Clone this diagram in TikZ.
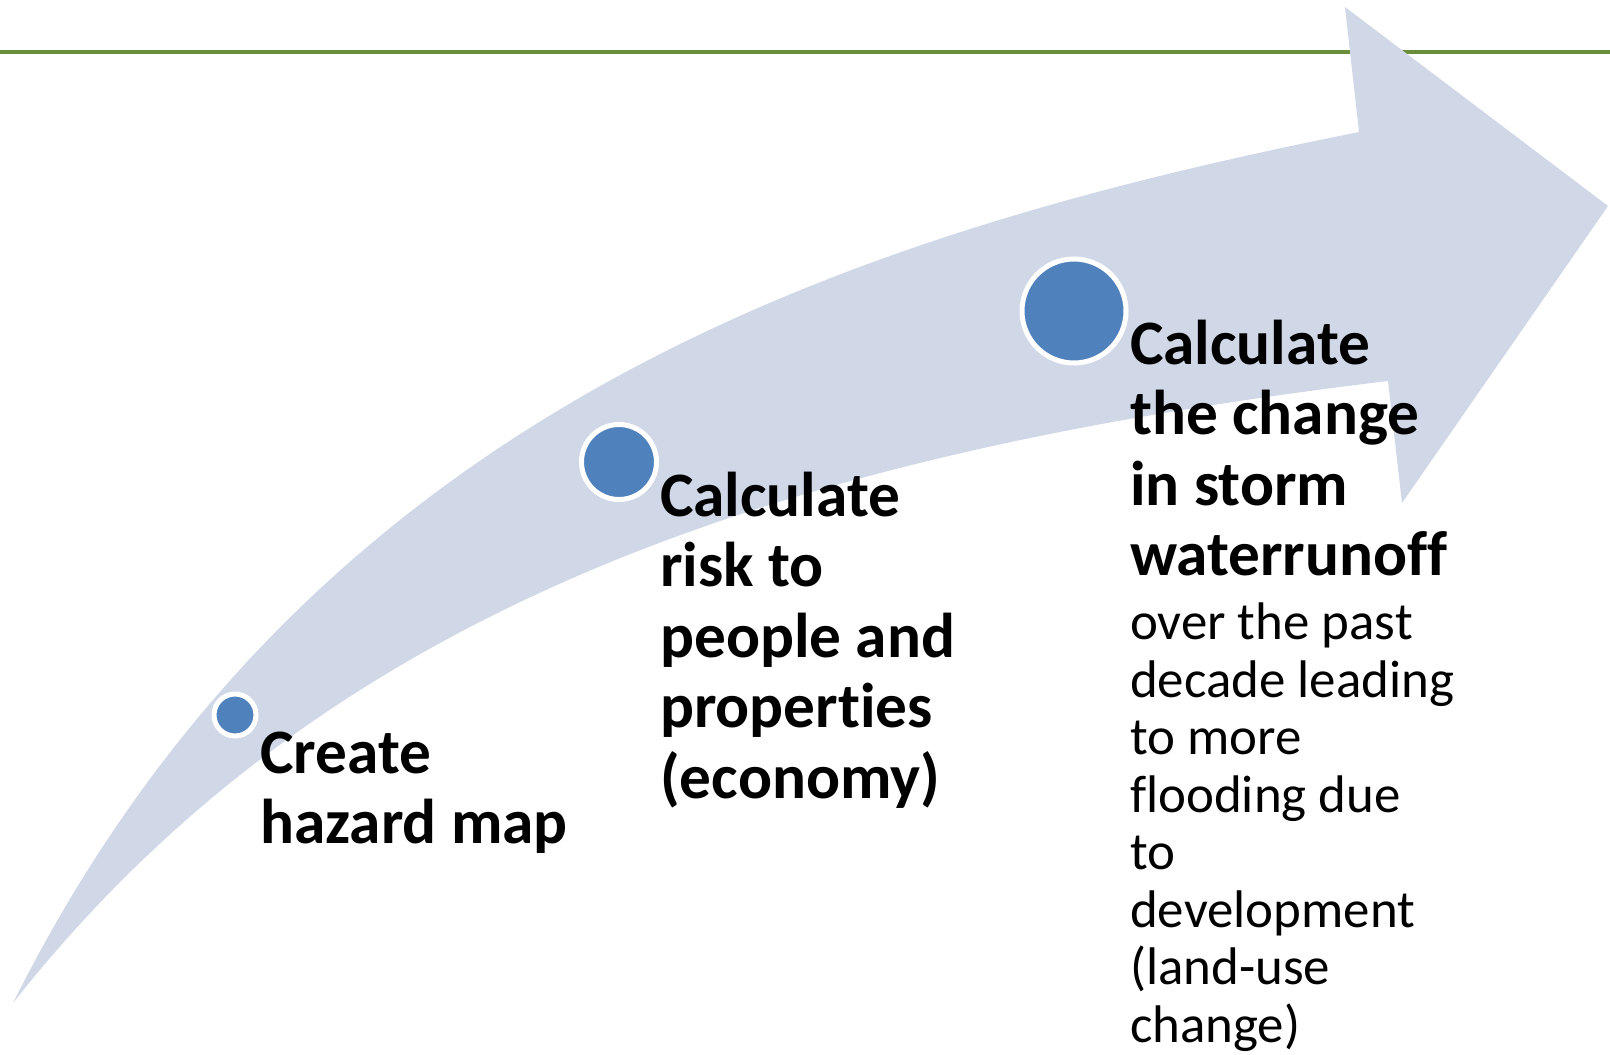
\documentclass[tikz,border=0pt]{standalone}
\usepackage{fontspec}
\setmainfont{Carlito}[Ligatures=NoCommon]
\definecolor{bandblue}{RGB}{208,216,232}
\definecolor{dotblue}{RGB}{79,129,189}
\definecolor{rulegreen}{RGB}{107,142,58}
\begin{document}
\begin{tikzpicture}[x=1pt,y=-1pt,
  rulestyle/.style={draw=rulegreen, line width=4pt},
  band/.style={fill=bandblue, draw=none},
  dot/.style={circle, fill=dotblue, draw=white, line width=5pt, inner sep=0pt},
  % base anchor of a multi-line node sits on its last line
  steptitle/.style={anchor=base west, align=left, inner sep=0pt,
    font=\bfseries\fontsize{63.3}{70.5}\selectfont},
  stepnote/.style={anchor=base west, align=left, inner sep=0pt,
    font=\fontsize{52.9}{57.5}\selectfont}]
\useasboundingbox (0,0) rectangle (1610,1055);

% top rule
\draw[rulestyle] (0,52) -- (1610,52);

% curved block arrow
\path[band] (13,1003) .. controls (313,403) and (859,232) .. (1359,132)
  -- (1345,7) -- (1608,206) -- (1402,503) -- (1388,381)
  .. controls (800,452) and (333,597) .. (13,1003) -- cycle;

% milestone dots
\node[dot, minimum size=42pt] (d1) at (235,715) {};
\node[dot, minimum size=75pt] (d2) at (619,462) {};
\node[dot, minimum size=104pt] (d3) at (1074,311) {};

% step labels
\node[steptitle] (t1) at (260,843.5) {Create\\hazard map};
\node[steptitle] (t2) at (660,798) {Calculate\\risk to\\people and\\properties\\(economy)};
\node[steptitle] (t3) at (1130,575.5) {Calculate\\the change\\in storm\\waterrunoff};
\node[stepnote] (n3) at (1130,1042) {over the past\\decade leading\\to more\\flooding due\\to\\development\\(land-use\\change)};
\end{tikzpicture}
\end{document}
